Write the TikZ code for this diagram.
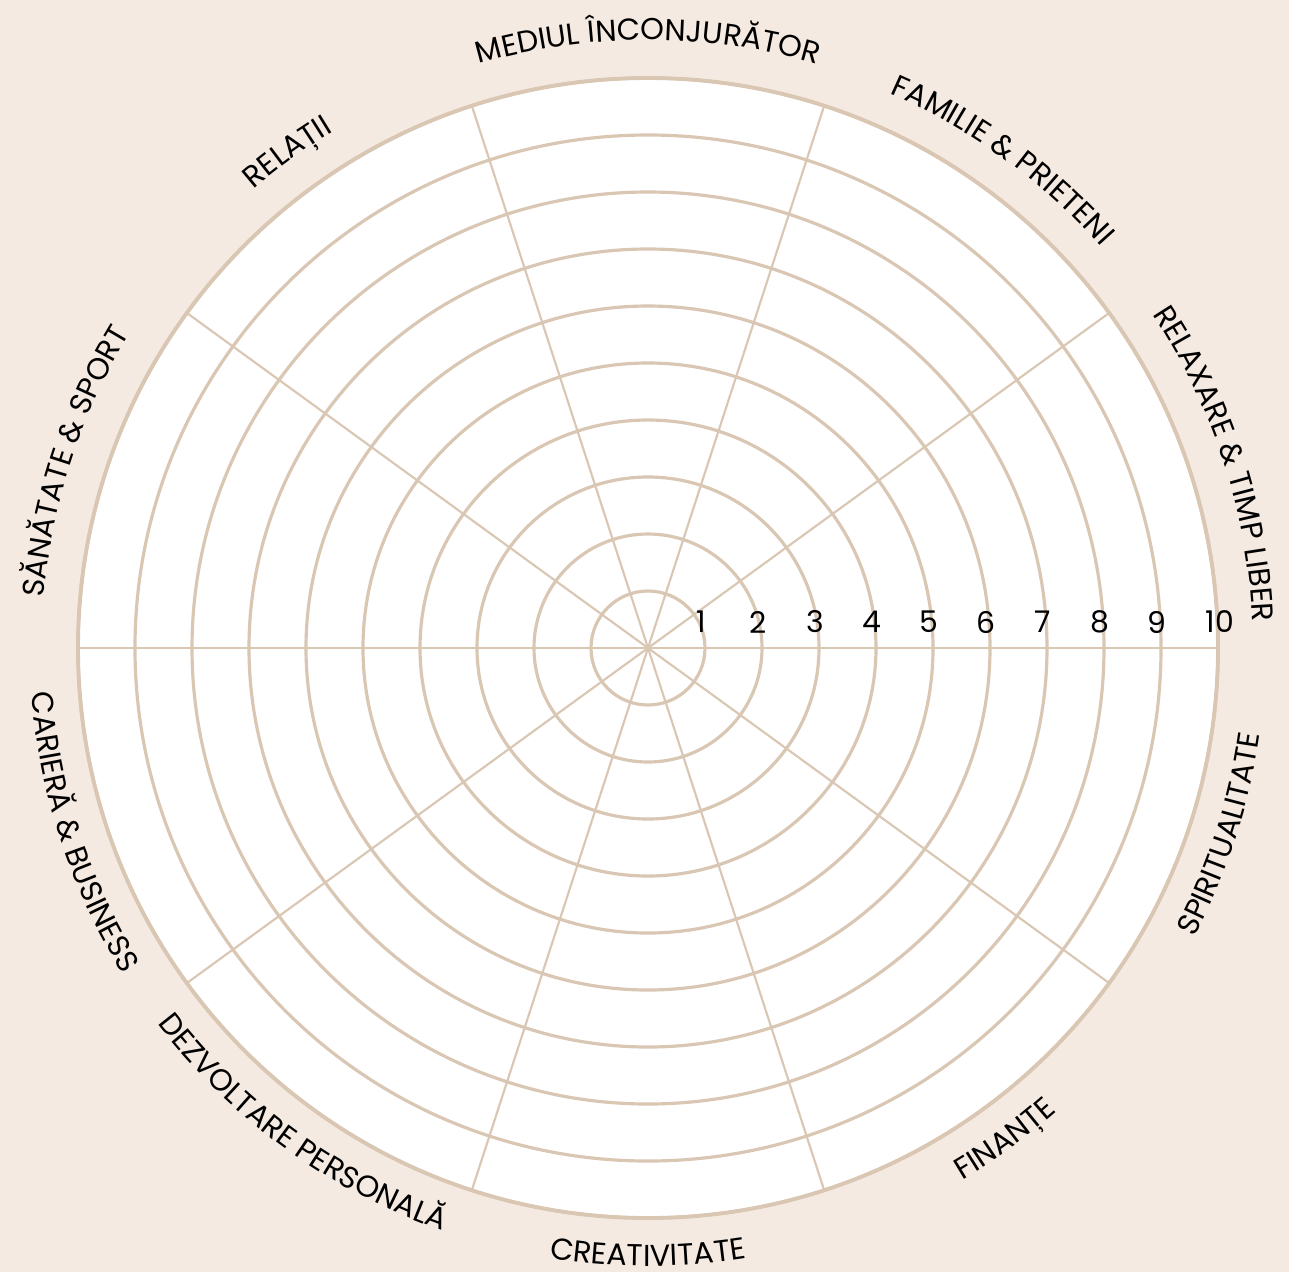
\documentclass[tikz,border=0pt]{standalone}
\usepackage{fontspec}
\setmainfont{Poppins}
\usetikzlibrary{decorations.text}

\definecolor{wheelbg}{HTML}{F5EAE1}
\definecolor{wheelline}{HTML}{D9C6B3}

\begin{document}
\begin{tikzpicture}[x=0.01cm, y=0.01cm,
    ring/.style={draw=wheelline, line width=0.9pt},
    spoke/.style={draw=wheelline, line width=0.6pt},
    score/.style={font=\fontsize{8.5}{10}\selectfont, inner sep=0pt},
    uplabel/.style={decorate, decoration={text along path, text align=center, text={#1}}},
    lowlabel/.style={decorate, decoration={text along path, text align=center, text={#1}}}]
    % background and size
    \fill[wheelbg] (-648,-624) rectangle (641,648);
    \useasboundingbox (-648,-624) rectangle (641,648);

    % wheel
    \fill[white] (0,0) circle (570);
    \foreach \a in {0,36,...,324}
        \draw[spoke] (0,0) -- (\a:570);
    \foreach \r in {1,...,10}
        \draw[ring] (0,0) circle (57*\r);
    \draw[ring, line width=1.1pt] (0,0) circle (570);

    % scale numbers
    \foreach \r in {1,...,9}
        \node[score] (s\r) at (57*\r-4, 26) {\r};
    \node[score] (s10) at (572, 26) {10};

    % area labels
    \fontsize{8.6}{10}\selectfont
    \path[uplabel={RELAXARE {\&} TIMP LIBER}] (63:605) arc[start angle=63, end angle=-27, radius=605];
    \path[uplabel={FAMILIE {\&} PRIETENI}] (99:605) arc[start angle=99, end angle=9, radius=605];
    \path[uplabel={MEDIUL ÎNCONJURĂTOR}] (135:608) arc[start angle=135, end angle=45, radius=608];
    \path[uplabel={RELAȚII}] (171:605) arc[start angle=171, end angle=81, radius=605];
    \path[uplabel={SĂNĂTATE {\&} SPORT}] (207:606) arc[start angle=207, end angle=117, radius=606];
    \path[lowlabel={CARIERĂ {\&} BUSINESS}] (153:618) arc[start angle=153, end angle=243, radius=618];
    \path[lowlabel={DEZVOLTARE PERSONALĂ}] (189:618) arc[start angle=189, end angle=279, radius=618];
    \path[lowlabel={CREATIVITATE}] (225:618) arc[start angle=225, end angle=315, radius=618];
    \path[lowlabel={FINANȚE}] (261:618) arc[start angle=261, end angle=351, radius=618];
    \path[lowlabel={SPIRITUALITATE}] (297:618) arc[start angle=297, end angle=387, radius=618];
\end{tikzpicture}
\end{document}
